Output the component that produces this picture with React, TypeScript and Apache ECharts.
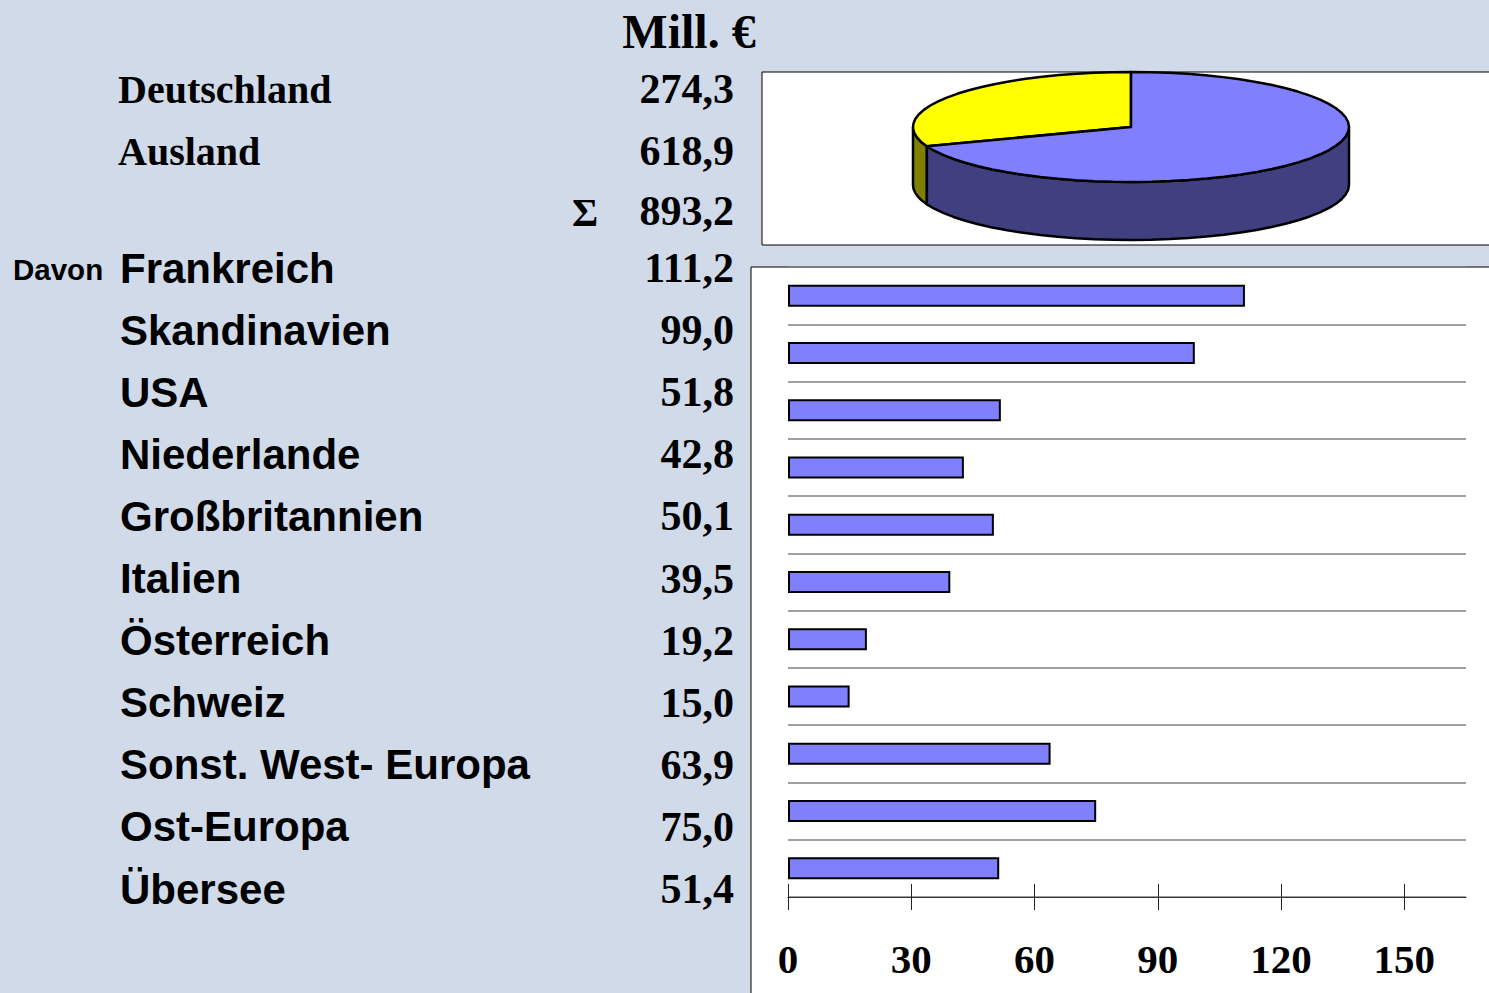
import React, { useEffect, useRef } from "react";
import * as echarts from "echarts";

const categories = [
  "Frankreich",
  "Skandinavien",
  "USA",
  "Niederlande",
  "Großbritannien",
  "Italien",
  "Österreich",
  "Schweiz",
  "Sonst. West- Europa",
  "Ost-Europa",
  "Übersee",
];
const values = [111.2, 99.0, 51.8, 42.8, 50.1, 39.5, 19.2, 15.0, 63.9, 75.0, 51.4];
const pieLabels = ["Deutschland", "Ausland"];
const pieValues = [274.3, 618.9];
const totalValue = 893.2;
const xTicks = [0, 30, 60, 90, 120, 150];
const titleText = "Mill. €";

const fmt = (v: number) => v.toFixed(1).replace(".", ",");

const SERIF = '"Liberation Serif", "Times New Roman", serif';
const SANS = '"Liberation Sans", Arial, sans-serif';

// pie geometry (3D-look ellipse)
const PCX = 1131;
const PCY = 127;
const PRX = 218;
const PRY = 55;
const PDEPTH = 58;
const topColors = ["#FFFF00", "#8080FF"];
const sideColors = ["#808000", "#404080"];

function pt(deg: number, dy = 0): number[] {
  const r = (deg * Math.PI) / 180;
  return [PCX + PRX * Math.cos(r), PCY - PRY * Math.sin(r) + dy];
}

function arcPoints(a0: number, a1: number, dy = 0): number[][] {
  const pts: number[][] = [];
  const n = Math.max(2, Math.ceil(Math.abs(a1 - a0) / 5));
  for (let i = 0; i <= n; i++) pts.push(pt(a0 + ((a1 - a0) * i) / n, dy));
  return pts;
}

function textEl(text: string, x: number, y: number, font: string, align: string) {
  return {
    type: "text",
    x,
    y,
    z: 10,
    style: {
      text,
      font,
      fill: "#000",
      align,
      verticalAlign: "middle",
      textAlign: align,
      textVerticalAlign: "middle",
    },
  };
}

export default function App() {
  const ref = useRef<HTMLDivElement>(null);

  useEffect(() => {
    if (!ref.current) return;
    const chart = echarts.init(ref.current, undefined, { renderer: "svg" });
    const pieSum = pieValues.reduce((a, b) => a + b, 0);

    const graphics: any[] = [
      {
        type: "rect",
        z: -1,
        shape: { x: 762, y: 72, width: 800, height: 173 },
        style: { fill: "#FFFFFF", stroke: "#000", lineWidth: 1 },
      },
      {
        type: "rect",
        z: -1,
        shape: { x: 751, y: 267, width: 800, height: 800 },
        style: { fill: "#FFFFFF", stroke: "#000", lineWidth: 1 },
      },
      textEl(titleText, 689, 31, `bold 48px ${SERIF}`, "center"),
      textEl(pieLabels[0], 118, 89, `bold 40px ${SERIF}`, "left"),
      textEl(pieLabels[1], 118, 151, `bold 40px ${SERIF}`, "left"),
      textEl(fmt(pieValues[0]), 734, 89, `bold 42px ${SERIF}`, "right"),
      textEl(fmt(pieValues[1]), 734, 151, `bold 42px ${SERIF}`, "right"),
      textEl("Σ", 572, 212, `bold 40px ${SERIF}`, "left"),
      textEl(fmt(totalValue), 734, 211, `bold 42px ${SERIF}`, "right"),
      textEl("Davon", 13, 269, `bold 29.5px ${SANS}`, "left"),
    ];
    categories.forEach((c, i) => {
      const y = 268 + 62.1 * i;
      graphics.push(textEl(c, 120, y, `bold 42px ${SANS}`, "left"));
      graphics.push(textEl(fmt(values[i]), 734, y, `bold 42px ${SERIF}`, "right"));
    });

    chart.setOption({
      animation: false,
      backgroundColor: "#D0DAE8",
      graphic: graphics,
      grid: { left: 788, right: 23, top: 267, bottom: 96, containLabel: false },
      xAxis: [
        {
          type: "value",
          min: 0,
          max: 165,
          interval: 30,
          position: "bottom",
          axisLine: { show: true, lineStyle: { color: "#333", width: 1 } },
          axisTick: {
            show: true,
            length: 13,
            inside: false,
            customValues: xTicks,
            lineStyle: { color: "#222", width: 1 },
          },
          axisLabel: {
            show: true,
            customValues: xTicks,
            margin: 41,
            color: "#000",
            fontFamily: SERIF,
            fontWeight: "bold",
            fontSize: 41,
          },
          splitLine: { show: false },
        },
        {
          type: "value",
          min: 0,
          max: 165,
          interval: 30,
          position: "bottom",
          axisLine: { show: false },
          axisTick: {
            show: true,
            length: 13,
            inside: true,
            customValues: xTicks,
            lineStyle: { color: "#222", width: 1 },
          },
          axisLabel: { show: false },
          splitLine: { show: false },
        },
      ],
      yAxis: {
        type: "category",
        data: categories,
        inverse: true,
        axisLine: { show: false },
        axisTick: { show: false },
        axisLabel: { show: false },
        splitLine: { show: true, lineStyle: { color: "#808080", width: 1.5 } },
      },
      series: [
        {
          type: "bar",
          xAxisIndex: 0,
          data: values,
          barWidth: 22,
          itemStyle: { color: "#8080FF", borderColor: "#000", borderWidth: 2 },
          z: 3,
        },
        {
          type: "custom",
          coordinateSystem: "none",
          data: pieValues,
          z: 5,
          renderItem: (params: any) => {
            const idx = params.dataIndex;
            let before = 0;
            for (let i = 0; i < idx; i++) before += pieValues[i];
            const a0 = 90 + (before / pieSum) * 360;
            const a1 = 90 + ((before + pieValues[idx]) / pieSum) * 360;
            const children: any[] = [];
            const ranges = [
              [180, 360],
              [540, 720],
            ];
            ranges.forEach(([r0, r1]) => {
              const s = Math.max(a0, r0);
              const e = Math.min(a1, r1);
              if (e > s) {
                const topArc = arcPoints(s, e, 0);
                const botArc = arcPoints(e, s, PDEPTH);
                children.push({
                  type: "polygon",
                  z2: 1,
                  shape: { points: topArc.concat(botArc) },
                  style: {
                    fill: sideColors[idx],
                    stroke: "#000",
                    lineWidth: 2.5,
                    lineJoin: "round",
                  },
                });
              }
            });
            const pts = [[PCX, PCY]].concat(arcPoints(a0, a1, 0));
            children.push({
              type: "polygon",
              z2: 10,
              shape: { points: pts },
              style: {
                fill: topColors[idx],
                stroke: "#000",
                lineWidth: 2.5,
                lineJoin: "round",
              },
            });
            return { type: "group", children };
          },
        },
      ],
    });
    return () => chart.dispose();
  }, []);

  return (
    <div
      ref={ref}
      style={{ position: "fixed", left: 0, top: 0, width: 1489, height: 993 }}
    />
  );
}
